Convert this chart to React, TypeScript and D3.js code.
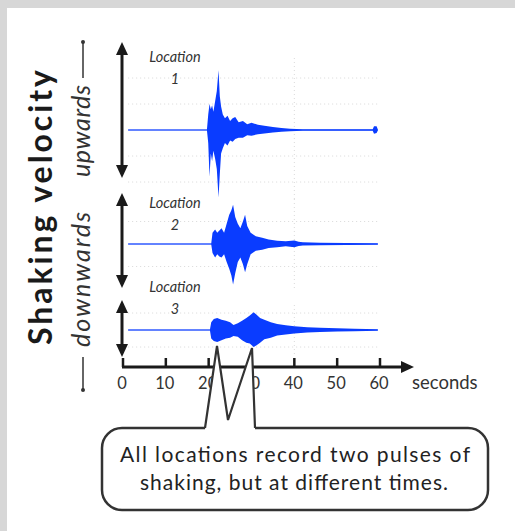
import * as d3 from "d3";

// seismogram envelopes (velocity units per panel)
const seconds = [0, 10, 20, 30, 40, 50, 60];
const tickLabels = ["0", "10", "20", "30", "40", "50", "60"];
const locationNames = ["1", "2", "3"];

const loc1Time = [1.2, 19.6, 19.9, 20.2, 20.5, 20.8, 21.1, 21.5, 21.9, 22.3, 22.6, 22.9, 23.3, 23.8, 24.4, 25, 25.6, 26.2, 27, 28, 29, 30, 31.5, 33, 35, 37, 39, 42, 58.3, 58.6, 59.2, 59.5];
const loc1Up = [0.02, 0.02, 0.6, 1.0, 0.8, 0.95, 0.7, 1.1, 1.5, 2.3, 1.3, 0.9, 0.6, 0.45, 0.55, 0.35, 0.45, 0.5, 0.3, 0.35, 0.22, 0.28, 0.2, 0.16, 0.12, 0.08, 0.05, 0.03, 0.03, 0.14, 0.14, 0.02];
const loc1Down = [-0.02, -0.02, -0.5, -1.8, -0.9, -1.2, -0.8, -1.1, -1.5, -2.6, -1.7, -0.9, -0.7, -0.5, -0.6, -0.4, -0.45, -0.35, -0.3, -0.3, -0.2, -0.22, -0.16, -0.13, -0.1, -0.07, -0.05, -0.03, -0.03, -0.14, -0.12, -0.02];

const loc2Time = [1.2, 20.6, 20.9, 21.5, 22.0, 22.5, 23.0, 23.6, 24.2, 24.8, 25.3, 25.7, 26.2, 26.8, 27.4, 28.0, 28.5, 29.0, 29.8, 31, 32.5, 34, 36, 38, 40, 41, 42, 46, 52, 59.5];
const loc2Up = [0.02, 0.02, 0.5, 0.65, 0.5, 0.6, 0.7, 0.5, 0.9, 1.3, 1.5, 1.75, 1.2, 0.9, 0.7, 1.0, 1.3, 0.8, 0.5, 0.35, 0.28, 0.2, 0.15, 0.12, 0.16, 0.1, 0.08, 0.06, 0.04, 0.03];
const loc2Down = [-0.02, -0.02, -0.4, -0.6, -0.45, -0.55, -0.6, -0.45, -0.8, -1.1, -1.4, -1.8, -1.3, -0.8, -0.6, -0.9, -1.25, -0.9, -0.45, -0.3, -0.25, -0.18, -0.14, -0.1, -0.14, -0.09, -0.07, -0.06, -0.04, -0.03];

const loc3Time = [1.2, 20.3, 20.6, 21.2, 22.0, 23.0, 24.0, 25.0, 25.8, 26.8, 27.8, 28.8, 29.6, 30.5, 31.2, 32.0, 33.0, 34.5, 36, 38, 40, 43, 46, 50, 54, 59.5];
const loc3Up = [0.03, 0.03, 0.45, 0.65, 0.7, 0.6, 0.55, 0.45, 0.3, 0.4, 0.55, 0.7, 0.85, 1.05, 0.9, 0.7, 0.6, 0.45, 0.35, 0.28, 0.22, 0.16, 0.13, 0.1, 0.08, 0.05];
const loc3Down = [-0.03, -0.03, -0.5, -0.65, -0.7, -0.6, -0.5, -0.45, -0.35, -0.4, -0.6, -0.75, -0.8, -1.0, -0.9, -0.75, -0.55, -0.45, -0.32, -0.26, -0.2, -0.15, -0.12, -0.09, -0.07, -0.05];

const W = 515,
  H = 531;
const font = "Lato, 'Open Sans', sans-serif";
const blue = "#0a3cff";
const ink = "#1a1a1a";

// panel layout: pixel top/bottom, pixels per unit, grid levels, arrow extent, label position
const panels = [
  { time: loc1Time, up: loc1Up, down: loc1Down, top: 58, bottom: 202, ppu: 26, grid: [-2, -1, 1, 2], arrow: [42, 178], labelY: 62 },
  { time: loc2Time, up: loc2Up, down: loc2Down, top: 199, bottom: 289, ppu: 22.5, grid: [-1, 1], arrow: [193, 288], labelY: 208 },
  { time: loc3Time, up: loc3Up, down: loc3Down, top: 305, bottom: 355, ppu: 17, grid: [-1, 1], arrow: [300, 357], labelY: 292 },
];

function VArrow({ x, y1, y2 }) {
  const hw = 6,
    hl = 13;
  return (
    <g fill={ink} stroke="none">
      <line x1={x} y1={y1 + hl - 2} x2={x} y2={y2 - hl + 2} stroke={ink} strokeWidth={3} />
      <path d={`M${x},${y1} L${x - hw},${y1 + hl} L${x + hw},${y1 + hl} Z`} />
      <path d={`M${x},${y2} L${x - hw},${y2 - hl} L${x + hw},${y2 - hl} Z`} />
    </g>
  );
}

export default function App() {
  const xScale = d3.scaleLinear().domain([0, 60]).range([123, 380]);
  const axisY = 367;
  const gridT = [1.2, 59.5];

  return (
    <div style={{ position: "absolute", left: 0, top: 0 }}>
      <svg width={W} height={H} viewBox={`0 0 ${W} ${H}`} style={{ display: "block" }}>
        <rect x={0} y={0} width={W} height={H} fill="#d7d7d7" />
        <rect x={7} y={8} width={W - 7} height={H - 8} fill="#fff" />

        {panels.map((p, pi) => {
          const half = (p.bottom - p.top) / 2 / p.ppu;
          const yScale = d3.scaleLinear().domain([-half, half]).range([p.bottom, p.top]);
          const idx = d3.range(p.time.length);
          const area = d3
            .area()
            .x((i) => xScale(p.time[i]))
            .y0((i) => yScale(p.down[i]))
            .y1((i) => yScale(p.up[i]));
          return (
            <g key={pi}>
              {p.grid.map((g) => (
                <line
                  key={g}
                  x1={xScale(gridT[0])}
                  x2={xScale(gridT[1])}
                  y1={yScale(g)}
                  y2={yScale(g)}
                  stroke="#cfcfcf"
                  strokeWidth={0.8}
                  strokeDasharray="1,3"
                />
              ))}
              <line
                x1={xScale(40)}
                x2={xScale(40)}
                y1={p.top}
                y2={p.bottom}
                stroke="#cfcfcf"
                strokeWidth={0.8}
                strokeDasharray="1,3"
              />
              <line
                x1={xScale(gridT[0])}
                x2={xScale(gridT[1])}
                y1={yScale(0)}
                y2={yScale(0)}
                stroke="#5a7aff"
                strokeWidth={0.8}
              />
              <path d={area(idx)} fill={blue} stroke="none" />
              <VArrow x={122} y1={p.arrow[0]} y2={p.arrow[1]} />
              <text
                x={175}
                y={p.labelY}
                textAnchor="middle"
                fontFamily={font}
                fontStyle="italic"
                fontSize={14.5}
                fill="#333"
              >
                Location
              </text>
              <text
                x={175}
                y={p.labelY + 22}
                textAnchor="middle"
                fontFamily={font}
                fontStyle="italic"
                fontSize={14.5}
                fill="#333"
              >
                {locationNames[pi]}
              </text>
            </g>
          );
        })}

        {/* time axis */}
        <line x1={122} y1={axisY} x2={403} y2={axisY} stroke={ink} strokeWidth={3} />
        <path d={`M414,${axisY} L401,${axisY - 6} L401,${axisY + 6} Z`} fill={ink} />
        {seconds.map((s) => (
          <line key={s} x1={xScale(s)} x2={xScale(s)} y1={axisY - 9} y2={axisY} stroke={ink} strokeWidth={2.5} />
        ))}
        {seconds.map((s, i) => (
          <text
            key={s}
            x={xScale(s) - 1}
            y={389}
            textAnchor="middle"
            fontFamily={font}
            fontSize={16.5}
            fill="#333"
          >
            {tickLabels[i]}
          </text>
        ))}
        <text x={412} y={389} fontFamily={font} fontSize={18.5} fill="#333">
          seconds
        </text>

        {/* y label */}
        <text
          transform="translate(52,207.5) rotate(-90)"
          textAnchor="middle"
          fontFamily={font}
          fontWeight="bold"
          fontSize={32}
          fill={ink}
          textLength={275}
        >
          Shaking velocity
        </text>
        <text
          transform="translate(90,131) rotate(-90)"
          textAnchor="middle"
          fontFamily={font}
          fontStyle="italic"
          fontSize={25}
          fill="#333"
          textLength={92}
        >
          upwards
        </text>
        <text
          transform="translate(90,279.5) rotate(-90)"
          textAnchor="middle"
          fontFamily={font}
          fontStyle="italic"
          fontSize={25}
          fill="#333"
          textLength={135}
        >
          downwards
        </text>
        <line x1={83} x2={83} y1={42} y2={78} stroke="#333" strokeWidth={1.5} />
        <circle cx={83} cy={42} r={2} fill="#333" />
        <line x1={83} x2={83} y1={357} y2={390} stroke="#333" strokeWidth={1.5} />
        <circle cx={83} cy={390} r={2} fill="#333" />

        {/* callout */}
        <rect x={102} y={428} width={386} height={82} rx={20} fill="#fff" stroke="#333" strokeWidth={2.5} />
        <path d="M205,431 L205,428 L217,346 L228,420 L252,348 L255,428 L255,431 Z" fill="#fff" />
        <path
          d="M205,428 L217,346 L228,420 L252,348 L255,428"
          fill="none"
          stroke="#333"
          strokeWidth={2.2}
          strokeLinejoin="miter"
        />
        <text x={295} y={462} textAnchor="middle" fontFamily={font} fontSize={21} fill="#222" textLength={350}>
          All locations record two pulses of
        </text>
        <text x={294} y={490} textAnchor="middle" fontFamily={font} fontSize={21} fill="#222" textLength={308}>
          shaking, but at different times.
        </text>
      </svg>
    </div>
  );
}
